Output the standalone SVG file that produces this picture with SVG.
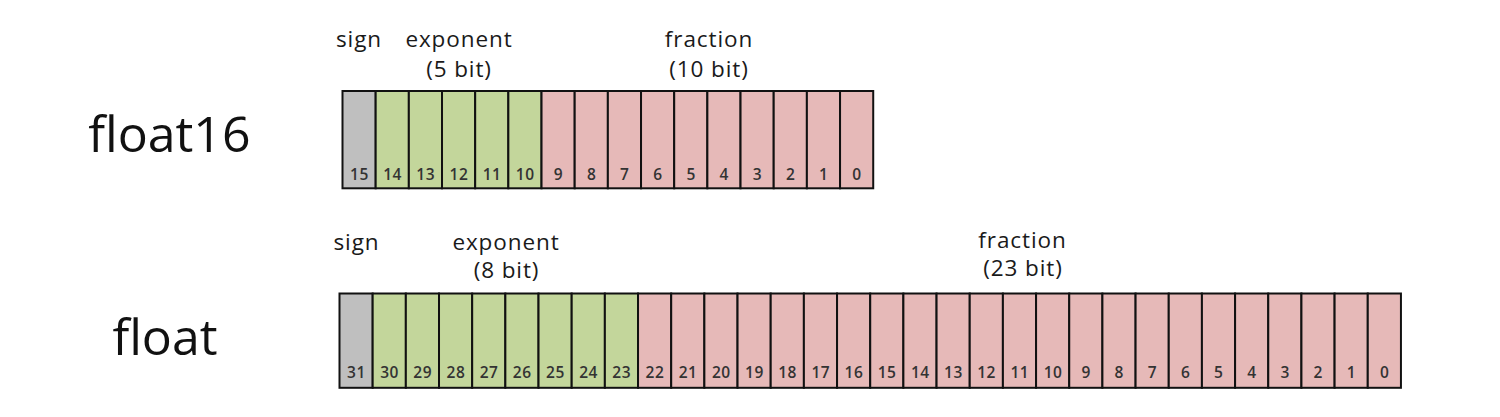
<svg xmlns="http://www.w3.org/2000/svg" width="1500" height="417" viewBox="0 0 1500 417">
<style>
.bg{fill:#ffffff}
.c{stroke:#111111;stroke-width:2}
.s{fill:#bfbfbf}
.e{fill:#c3d69b}
.f{fill:#e6b9b8}
.n{font-family:"Open Sans","Noto Sans","DejaVu Sans",sans-serif;font-size:15.5px;font-weight:600;fill:#333333;text-anchor:middle;letter-spacing:0.5px}
.l{font-family:"Open Sans","Noto Sans","DejaVu Sans",sans-serif;font-size:22.5px;fill:#1a1a1a;text-anchor:middle;letter-spacing:0.9px}
.t{font-family:"Open Sans","Noto Sans","DejaVu Sans",sans-serif;font-size:50px;fill:#111111;text-anchor:middle}
</style>
<rect class="bg" x="0" y="0" width="1500" height="417"/>

<g id="title-float16"><text class="t" x="169.4" y="152">float16</text></g>
<g id="title-float"><text class="t" x="165" y="355">float</text></g>

<g id="labels-float16">
<text class="l" x="359" y="47">sign</text>
<text class="l" x="459" y="47">exponent</text>
<text class="l" x="459" y="77">(5 bit)</text>
<text class="l" x="709" y="47">fraction</text>
<text class="l" x="709" y="77">(10 bit)</text>
</g>
<g id="labels-float">
<text class="l" x="356.5" y="250">sign</text>
<text class="l" x="506" y="250">exponent</text>
<text class="l" x="506.5" y="278">(8 bit)</text>
<text class="l" x="1022.5" y="248">fraction</text>
<text class="l" x="1023" y="276">(23 bit)</text>
</g>

<g id="float16">
<g id="f16-bit15"><rect class="c s" x="342.5" y="91" width="33.17" height="97.3"/><text class="n" x="359.4" y="180">15</text></g>
<g id="f16-bit14"><rect class="c e" x="375.67" y="91" width="33.17" height="97.3"/><text class="n" x="392.6" y="180">14</text></g>
<g id="f16-bit13"><rect class="c e" x="408.84" y="91" width="33.17" height="97.3"/><text class="n" x="425.7" y="180">13</text></g>
<g id="f16-bit12"><rect class="c e" x="442.01" y="91" width="33.17" height="97.3"/><text class="n" x="458.9" y="180">12</text></g>
<g id="f16-bit11"><rect class="c e" x="475.18" y="91" width="33.17" height="97.3"/><text class="n" x="492.1" y="180">11</text></g>
<g id="f16-bit10"><rect class="c e" x="508.35" y="91" width="33.17" height="97.3"/><text class="n" x="525.2" y="180">10</text></g>
<g id="f16-bit9"><rect class="c f" x="541.52" y="91" width="33.17" height="97.3"/><text class="n" x="558.4" y="180">9</text></g>
<g id="f16-bit8"><rect class="c f" x="574.69" y="91" width="33.17" height="97.3"/><text class="n" x="591.6" y="180">8</text></g>
<g id="f16-bit7"><rect class="c f" x="607.86" y="91" width="33.17" height="97.3"/><text class="n" x="624.7" y="180">7</text></g>
<g id="f16-bit6"><rect class="c f" x="641.03" y="91" width="33.17" height="97.3"/><text class="n" x="657.9" y="180">6</text></g>
<g id="f16-bit5"><rect class="c f" x="674.2" y="91" width="33.17" height="97.3"/><text class="n" x="691.1" y="180">5</text></g>
<g id="f16-bit4"><rect class="c f" x="707.37" y="91" width="33.17" height="97.3"/><text class="n" x="724.3" y="180">4</text></g>
<g id="f16-bit3"><rect class="c f" x="740.54" y="91" width="33.17" height="97.3"/><text class="n" x="757.4" y="180">3</text></g>
<g id="f16-bit2"><rect class="c f" x="773.71" y="91" width="33.17" height="97.3"/><text class="n" x="790.6" y="180">2</text></g>
<g id="f16-bit1"><rect class="c f" x="806.88" y="91" width="33.17" height="97.3"/><text class="n" x="823.8" y="180">1</text></g>
<g id="f16-bit0"><rect class="c f" x="840.05" y="91" width="33.17" height="97.3"/><text class="n" x="856.9" y="180">0</text></g>
</g>

<g id="float32">
<g id="f32-bit31"><rect class="c s" x="339.5" y="293.5" width="33.17" height="94.3"/><text class="n" x="356.4" y="377.5">31</text></g>
<g id="f32-bit30"><rect class="c e" x="372.67" y="293.5" width="33.17" height="94.3"/><text class="n" x="389.6" y="377.5">30</text></g>
<g id="f32-bit29"><rect class="c e" x="405.84" y="293.5" width="33.17" height="94.3"/><text class="n" x="422.7" y="377.5">29</text></g>
<g id="f32-bit28"><rect class="c e" x="439.01" y="293.5" width="33.17" height="94.3"/><text class="n" x="455.9" y="377.5">28</text></g>
<g id="f32-bit27"><rect class="c e" x="472.18" y="293.5" width="33.17" height="94.3"/><text class="n" x="489.1" y="377.5">27</text></g>
<g id="f32-bit26"><rect class="c e" x="505.35" y="293.5" width="33.17" height="94.3"/><text class="n" x="522.2" y="377.5">26</text></g>
<g id="f32-bit25"><rect class="c e" x="538.52" y="293.5" width="33.17" height="94.3"/><text class="n" x="555.4" y="377.5">25</text></g>
<g id="f32-bit24"><rect class="c e" x="571.69" y="293.5" width="33.17" height="94.3"/><text class="n" x="588.6" y="377.5">24</text></g>
<g id="f32-bit23"><rect class="c e" x="604.86" y="293.5" width="33.17" height="94.3"/><text class="n" x="621.7" y="377.5">23</text></g>
<g id="f32-bit22"><rect class="c f" x="638.03" y="293.5" width="33.17" height="94.3"/><text class="n" x="654.9" y="377.5">22</text></g>
<g id="f32-bit21"><rect class="c f" x="671.2" y="293.5" width="33.17" height="94.3"/><text class="n" x="688.1" y="377.5">21</text></g>
<g id="f32-bit20"><rect class="c f" x="704.37" y="293.5" width="33.17" height="94.3"/><text class="n" x="721.3" y="377.5">20</text></g>
<g id="f32-bit19"><rect class="c f" x="737.54" y="293.5" width="33.17" height="94.3"/><text class="n" x="754.4" y="377.5">19</text></g>
<g id="f32-bit18"><rect class="c f" x="770.71" y="293.5" width="33.17" height="94.3"/><text class="n" x="787.6" y="377.5">18</text></g>
<g id="f32-bit17"><rect class="c f" x="803.88" y="293.5" width="33.17" height="94.3"/><text class="n" x="820.8" y="377.5">17</text></g>
<g id="f32-bit16"><rect class="c f" x="837.05" y="293.5" width="33.17" height="94.3"/><text class="n" x="853.9" y="377.5">16</text></g>
<g id="f32-bit15"><rect class="c f" x="870.22" y="293.5" width="33.17" height="94.3"/><text class="n" x="887.1" y="377.5">15</text></g>
<g id="f32-bit14"><rect class="c f" x="903.39" y="293.5" width="33.17" height="94.3"/><text class="n" x="920.3" y="377.5">14</text></g>
<g id="f32-bit13"><rect class="c f" x="936.56" y="293.5" width="33.17" height="94.3"/><text class="n" x="953.4" y="377.5">13</text></g>
<g id="f32-bit12"><rect class="c f" x="969.73" y="293.5" width="33.17" height="94.3"/><text class="n" x="986.6" y="377.5">12</text></g>
<g id="f32-bit11"><rect class="c f" x="1002.9" y="293.5" width="33.17" height="94.3"/><text class="n" x="1019.8" y="377.5">11</text></g>
<g id="f32-bit10"><rect class="c f" x="1036.07" y="293.5" width="33.17" height="94.3"/><text class="n" x="1053" y="377.5">10</text></g>
<g id="f32-bit9"><rect class="c f" x="1069.24" y="293.5" width="33.17" height="94.3"/><text class="n" x="1086.1" y="377.5">9</text></g>
<g id="f32-bit8"><rect class="c f" x="1102.41" y="293.5" width="33.17" height="94.3"/><text class="n" x="1119.3" y="377.5">8</text></g>
<g id="f32-bit7"><rect class="c f" x="1135.58" y="293.5" width="33.17" height="94.3"/><text class="n" x="1152.5" y="377.5">7</text></g>
<g id="f32-bit6"><rect class="c f" x="1168.75" y="293.5" width="33.17" height="94.3"/><text class="n" x="1185.6" y="377.5">6</text></g>
<g id="f32-bit5"><rect class="c f" x="1201.92" y="293.5" width="33.17" height="94.3"/><text class="n" x="1218.8" y="377.5">5</text></g>
<g id="f32-bit4"><rect class="c f" x="1235.09" y="293.5" width="33.17" height="94.3"/><text class="n" x="1252" y="377.5">4</text></g>
<g id="f32-bit3"><rect class="c f" x="1268.26" y="293.5" width="33.17" height="94.3"/><text class="n" x="1285.1" y="377.5">3</text></g>
<g id="f32-bit2"><rect class="c f" x="1301.43" y="293.5" width="33.17" height="94.3"/><text class="n" x="1318.3" y="377.5">2</text></g>
<g id="f32-bit1"><rect class="c f" x="1334.6" y="293.5" width="33.17" height="94.3"/><text class="n" x="1351.5" y="377.5">1</text></g>
<g id="f32-bit0"><rect class="c f" x="1367.77" y="293.5" width="33.17" height="94.3"/><text class="n" x="1384.6" y="377.5">0</text></g>
</g>

<g id="connectors"></g>
</svg>
